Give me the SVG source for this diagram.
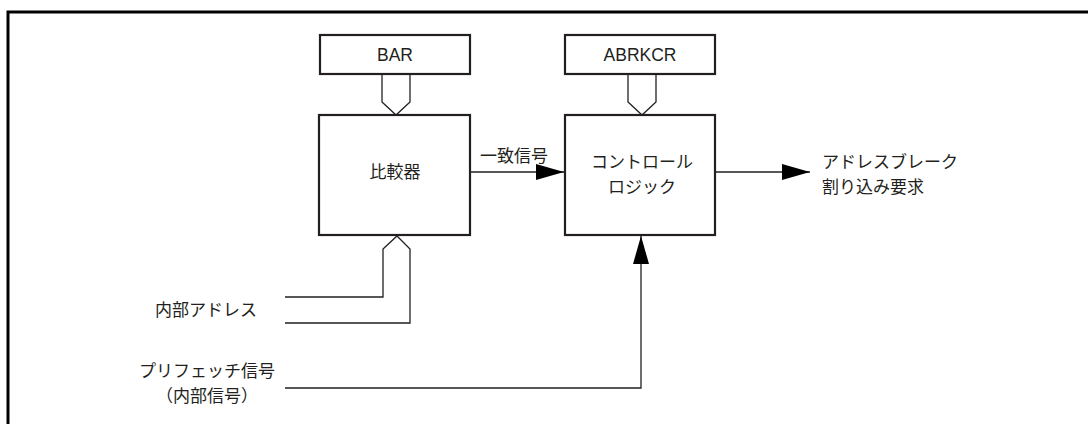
<svg xmlns="http://www.w3.org/2000/svg" width="1088" height="424" viewBox="0 0 1088 424">
<defs>
<style>
.box{fill:#fff;stroke:#231f20;stroke-width:2.2}
.ln{fill:none;stroke:#231f20;stroke-width:1.3}
.t{font-family:"Liberation Sans","Noto Sans CJK JP",sans-serif;font-size:17.5px;fill:#231f20}
.j{font-family:"Noto Sans CJK JP","Liberation Sans",sans-serif;font-size:17px;fill:#231f20}
</style>
<marker id="ah" markerWidth="28" markerHeight="16" refX="28" refY="8" orient="auto" markerUnits="userSpaceOnUse">
<path d="M0,0 L28,8 L0,16 Z" fill="#000"/>
</marker>
</defs>
<rect width="1088" height="424" fill="#fff"/>
<path d="M8,424 V12 H1088" fill="none" stroke="#000" stroke-width="3"/>
<g id="connectors">
<path class="ln" d="M382,74 V102 L396,115 L410,102 V74"/>
<path class="ln" d="M628,74 V102 L642,115 L656,102 V74"/>
<path class="ln" d="M285,297 H383 V249 L397,236 L410,249 V323 H285"/>
<path class="ln" d="M470,172 H564" marker-end="url(#ah)"/>
<path class="ln" d="M716,172 H810" marker-end="url(#ah)"/>
<path class="ln" d="M285,388 H641 V236" marker-end="url(#ah)"/>
<text class="j" x="514" y="162" text-anchor="middle">一致信号</text>
</g>
<g id="bar">
<rect class="box" x="320" y="35" width="150" height="39"/>
<text class="t" x="395" y="61" text-anchor="middle">BAR</text>
</g>
<g id="abrkcr">
<rect class="box" x="565" y="35" width="150" height="39"/>
<text class="t" x="640" y="61" text-anchor="middle">ABRKCR</text>
</g>
<g id="comparator">
<rect class="box" x="319" y="115" width="151" height="120"/>
<text class="j" x="395" y="178" text-anchor="middle">比較器</text>
</g>
<g id="control">
<rect class="box" x="565" y="115" width="150" height="120"/>
<text class="j" x="642" y="168" text-anchor="middle">コントロール</text>
<text class="j" x="642" y="193" text-anchor="middle">ロジック</text>
</g>
<g id="output">
<text class="j" x="822" y="168">アドレスブレーク</text>
<text class="j" x="822" y="193">割り込み要求</text>
</g>
<g id="addr">
<text class="j" x="206" y="316" text-anchor="middle">内部アドレス</text>
</g>
<g id="prefetch">
<text class="j" x="207" y="377" text-anchor="middle">プリフェッチ信号</text>
<text class="j" x="207" y="402" text-anchor="middle">（内部信号）</text>
</g>
</svg>
